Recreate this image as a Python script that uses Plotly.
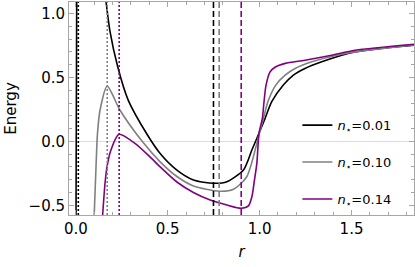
import plotly.graph_objects as go

# ---- data ----
labels = ["<i>n</i><sub>⋆</sub>=0.01", "<i>n</i><sub>⋆</sub>=0.10", "<i>n</i><sub>⋆</sub>=0.14"]
colors = ["#000000", "#808080", "#800080"]

# black: nearly vertical left branch, (peak far above the frame), right branch
r_black = [0.001, 0.005, None, 0.164, 0.186, 0.227, 0.285, 0.39, 0.459, 0.55, 0.64, 0.749, 0.822,
           0.912, 0.958, 0.997, 1.03, 1.066, 1.129, 1.184, 1.247, 1.338, 1.447, 1.519, 1.637, 1.84]
E_black = [-0.65, 1.15, None, 1.10, 0.860, 0.589, 0.323, 0.050, -0.095, -0.225, -0.302, -0.328, -0.316,
           -0.224, -0.068, 0.065, 0.18, 0.31, 0.44, 0.518, 0.57, 0.622, 0.674, 0.70, 0.723, 0.752]

r_gray = [0.100, 0.110, 0.118, 0.132, 0.171, 0.240, 0.361, 0.459, 0.550, 0.640, 0.780, 0.858, 0.930,
          0.999, 1.021, 1.045, 1.088, 1.139, 1.193, 1.284, 1.42, 1.519, 1.84]
E_gray = [-0.58, -0.198, 0.0625, 0.245, 0.432, 0.245, 0.0, -0.160, -0.275, -0.349, -0.39, -0.375, -0.277,
          0.065, 0.18, 0.31, 0.44, 0.518, 0.57, 0.622, 0.674, 0.70, 0.754]

r_purple = [0.146, 0.159, 0.170, 0.191, 0.235, 0.322, 0.412, 0.459, 0.550, 0.640, 0.731, 0.822, 0.900,
            0.939, 0.958, 0.972, 0.985, 0.997, 1.015, 1.024, 1.035, 1.057, 1.084, 1.139, 1.247, 1.392,
            1.519, 1.84]
E_purple = [-0.576, -0.328, -0.198, -0.068, 0.055, -0.016, -0.133, -0.200, -0.318, -0.400, -0.459, -0.498,
            -0.523, -0.505, -0.433, -0.302, -0.172, 0.065, 0.18, 0.31, 0.44, 0.544, 0.58, 0.61, 0.635,
            0.674, 0.713, 0.76]

peak_r = [0.0136, 0.171, 0.236]   # dotted markers
min_r = [0.749, 0.780, 0.900]     # dashed markers

x_range = [-0.037, 1.84]
y_range = [-0.576, 1.09]

FONT = "DejaVu Sans"

fig = go.Figure()

series = [(r_black, E_black), (r_gray, E_gray), (r_purple, E_purple)]
for i, ((rx, ey), name, col) in enumerate(zip(series, labels, colors)):
    fig.add_trace(go.Scatter(
        x=rx, y=ey, mode="lines", name=name, connectgaps=False,
        line=dict(color=col, width=1.6, shape="spline", smoothing=0.7),
        legendgroup=str(i),
    ))

for xv, col in zip(peak_r, colors):
    fig.add_vline(x=xv, line=dict(color=col, width=1.6, dash="2px,2px"))
for xv, col in zip(min_r, colors):
    fig.add_vline(x=xv, line=dict(color=col, width=1.6, dash="6px,3px"))

axis_common = dict(
    showline=True, linecolor="#a6a6a6", linewidth=1, mirror="allticks",
    ticks="inside", ticklen=5, tickcolor="#a6a6a6", tickwidth=1,
    showgrid=False, dtick=0.5, tickformat=".1f", automargin=False,
    tickfont=dict(family=FONT, size=15, color="#000000"),
    minor=dict(ticks="inside", ticklen=3, dtick=0.1, tickcolor="#a6a6a6", showgrid=False),
)

fig.update_xaxes(range=x_range, zeroline=False, tick0=0,
                 title=dict(text="<i>r</i>", font=dict(family=FONT, size=15, color="#000"), standoff=9),
                 **axis_common)
fig.update_yaxes(range=y_range, zeroline=True, zerolinecolor="#dcdcdc", zerolinewidth=1, tick0=0,
                 title=dict(text="Energy", font=dict(family=FONT, size=15, color="#000"), standoff=8),
                 **axis_common)

fig.update_layout(
    width=415, height=267,
    margin=dict(l=69, r=1, t=2, b=52),
    plot_bgcolor="white", paper_bgcolor="white",
    font=dict(family=FONT),
    legend=dict(x=0.662, y=0.492, xanchor="left", yanchor="top",
                font=dict(family=FONT, size=13, color="#000"),
                tracegroupgap=17, bgcolor="rgba(0,0,0,0)"),
)

fig.write_html("out.html", config={"displayModeBar": False},
               post_script="document.body.style.margin='0';")
